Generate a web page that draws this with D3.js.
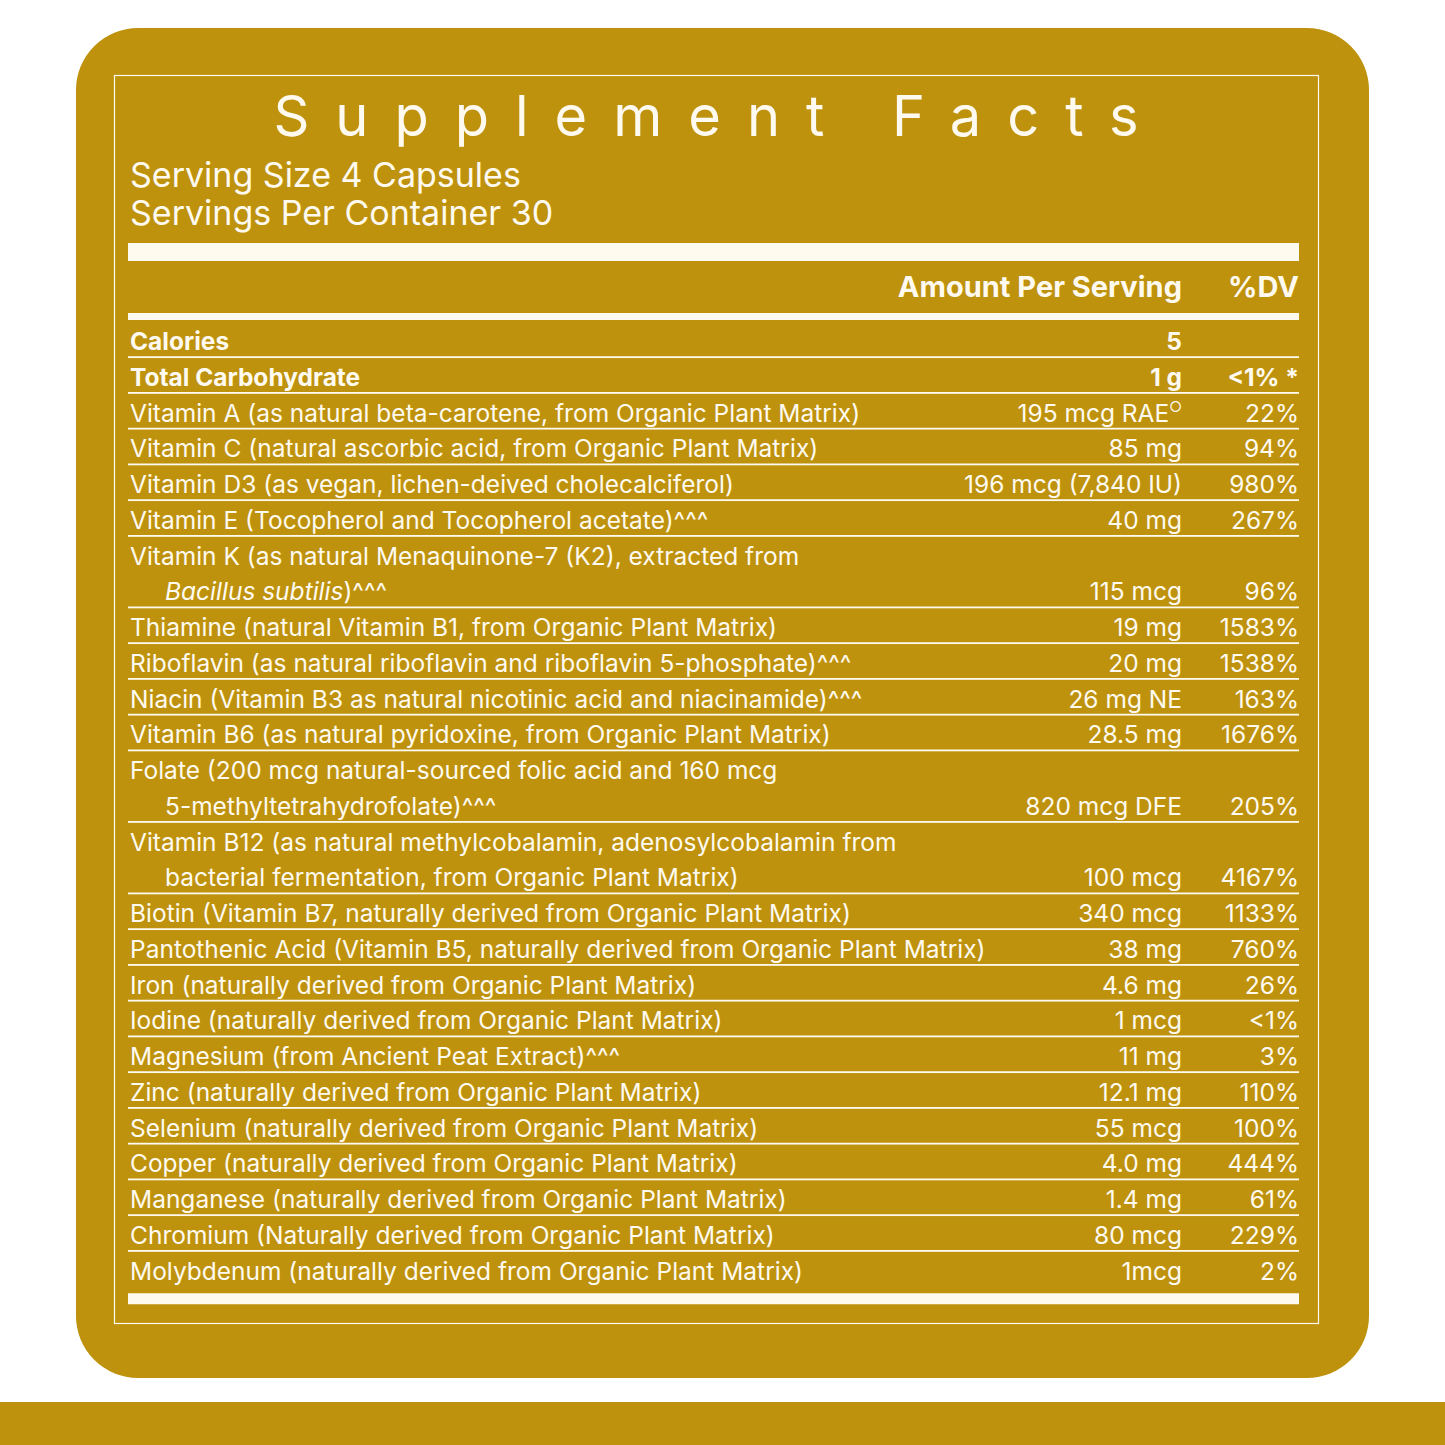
<!DOCTYPE html>
<html>
<head>
<meta charset="utf-8">
<script src="https://cdn.jsdelivr.net/npm/d3@7"></script>
<style>
  html, body { margin: 0; padding: 0; background: #fff; }
  svg { display: block; font-family: Inter, 'Noto Sans', sans-serif; }
</style>
</head>
<body>
<svg id="label" width="1445" height="1445"></svg>
<script>
const gold = '#be920d'
const ink = '#fffaf0'

const title = 'Supplement Facts'
const servingLines = ['Serving Size 4 Capsules', 'Servings Per Container 30']
const headers = ['Amount Per Serving', '%DV']

// each nutrient: name lines (second line indented), amount, %DV, bold flag
const names = [
  ['Calories'],
  ['Total Carbohydrate'],
  ['Vitamin A (as natural beta-carotene, from Organic Plant Matrix)'],
  ['Vitamin C (natural ascorbic acid, from Organic Plant Matrix)'],
  ['Vitamin D3 (as vegan, lichen-deived cholecalciferol)'],
  ['Vitamin E (Tocopherol and Tocopherol acetate)^^^'],
  ['Vitamin K (as natural Menaquinone-7 (K2), extracted from', '*Bacillus subtilis*)^^^'],
  ['Thiamine (natural Vitamin B1, from Organic Plant Matrix)'],
  ['Riboflavin (as natural riboflavin and riboflavin 5-phosphate)^^^'],
  ['Niacin (Vitamin B3 as natural nicotinic acid and niacinamide)^^^'],
  ['Vitamin B6 (as natural pyridoxine, from Organic Plant Matrix)'],
  ['Folate (200 mcg natural-sourced folic acid and 160 mcg', '5-methyltetrahydrofolate)^^^'],
  ['Vitamin B12 (as natural methylcobalamin, adenosylcobalamin from', 'bacterial fermentation, from Organic Plant Matrix)'],
  ['Biotin (Vitamin B7, naturally derived from Organic Plant Matrix)'],
  ['Pantothenic Acid (Vitamin B5, naturally derived from Organic Plant Matrix)'],
  ['Iron (naturally derived from Organic Plant Matrix)'],
  ['Iodine (naturally derived from Organic Plant Matrix)'],
  ['Magnesium (from Ancient Peat Extract)^^^'],
  ['Zinc (naturally derived from Organic Plant Matrix)'],
  ['Selenium (naturally derived from Organic Plant Matrix)'],
  ['Copper (naturally derived from Organic Plant Matrix)'],
  ['Manganese (naturally derived from Organic Plant Matrix)'],
  ['Chromium (Naturally derived from Organic Plant Matrix)'],
  ['Molybdenum (naturally derived from Organic Plant Matrix)']
]
const amounts = ['5', '1 g', '195 mcg RAE', '85 mg', '196 mcg (7,840 IU)', '40 mg', '115 mcg',
  '19 mg', '20 mg', '26 mg NE', '28.5 mg', '820 mcg DFE', '100 mcg', '340 mcg', '38 mg',
  '4.6 mg', '1 mcg', '11 mg', '12.1 mg', '55 mcg', '4.0 mg', '1.4 mg', '80 mcg', '1mcg']
const dvs = ['', '<1% *', '22%', '94%', '980%', '267%', '96%', '1583%', '1538%', '163%',
  '1676%', '205%', '4167%', '1133%', '760%', '26%', '<1%', '3%', '110%', '100%', '444%',
  '61%', '229%', '2%']
const boldRows = [0, 1]

const svg = d3.select('#label')

// panel
svg.append('rect').attr('x', 76).attr('y', 28).attr('width', 1293).attr('height', 1350)
  .attr('rx', 62).attr('fill', gold)
svg.append('rect').attr('x', 0).attr('y', 1402).attr('width', 1445).attr('height', 43).attr('fill', gold)
svg.append('rect').attr('x', 114.5).attr('y', 75.5).attr('width', 1204).attr('height', 1248)
  .attr('fill', 'none').attr('stroke', ink).attr('stroke-width', 1.2)

const left = 130, right = 1299, amtRight = 1182

svg.append('text').attr('x', 719).attr('y', 136).attr('text-anchor', 'middle')
  .attr('fill', ink).attr('font-size', 56).attr('letter-spacing', 26).text(title)

svg.selectAll('text.serv').data(servingLines).join('text').attr('class', 'serv')
  .attr('x', left).attr('y', (d, i) => 187 + i * 38)
  .attr('fill', ink).attr('font-size', 34).text(d => d)

const bar = (y, h) => svg.append('rect').attr('x', 128).attr('y', y)
  .attr('width', right - 128).attr('height', h).attr('fill', ink)
bar(243, 18)
bar(313, 7)

svg.selectAll('text.head').data(headers).join('text').attr('class', 'head')
  .attr('x', (d, i) => i ? right : amtRight).attr('y', 297).attr('text-anchor', 'end')
  .attr('fill', ink).attr('font-size', 29).attr('font-weight', 700).text(d => d)

// line index -> y
let cum = 0
const starts = names.map(n => { const s = cum; cum += n.length; return s })
const y = d3.scaleLinear().domain([0, cum]).range([322, 322 + cum * 35.75])

const rows = svg.selectAll('g.row').data(names).join('g').attr('class', 'row')
  .attr('fill', ink).attr('font-size', 24.5)
  .attr('font-weight', (d, i) => boldRows.includes(i) ? 700 : 400)

rows.each(function (lines, i) {
  const g = d3.select(this)
  lines.forEach((line, j) => {
    const t = g.append('text').attr('x', j ? 165 : left).attr('y', y(starts[i] + j) + 28)
    line.split('*').forEach((part, k) => {
      if (part) t.append('tspan').attr('font-style', k % 2 ? 'italic' : null).text(part)
    })
  })
  const by = y(starts[i] + lines.length - 1) + 28
  const a = g.append('text').attr('x', amtRight).attr('y', by).attr('text-anchor', 'end').text(amounts[i])
  if (i === 2) a.append('tspan').attr('font-size', 14).attr('dy', -10).text('○')
  g.append('text').attr('x', right).attr('y', by).attr('text-anchor', 'end').text(dvs[i])
  if (i < names.length - 1) {
    g.append('rect').attr('x', 128).attr('y', y(starts[i] + lines.length) - 1.5)
      .attr('width', right - 128).attr('height', 1.8)
  }
})

bar(y(cum) + 6, 11)
</script>
</body>
</html>
